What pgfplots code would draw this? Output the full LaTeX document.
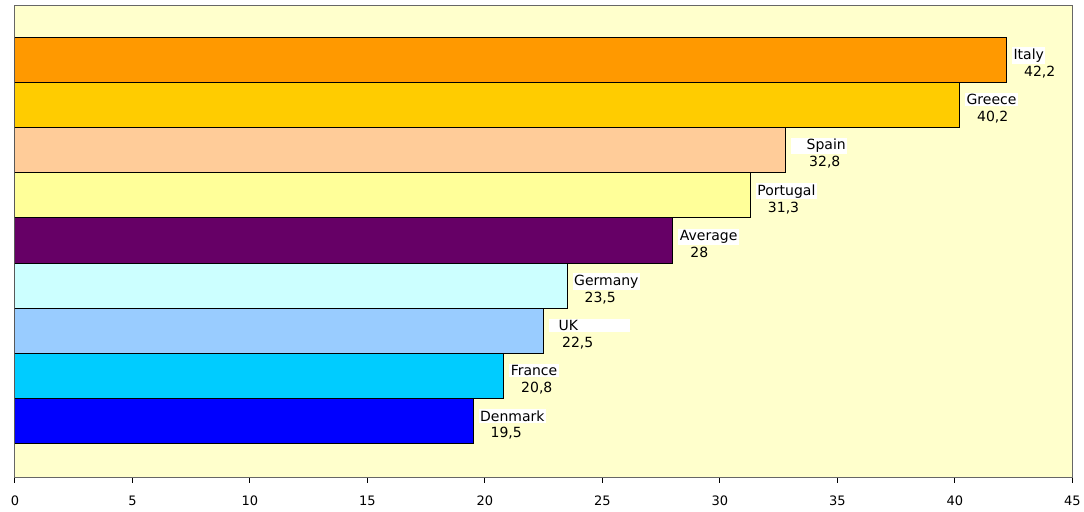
\documentclass[border=0pt]{standalone}
\usepackage{pgfplots}
\pgfplotsset{compat=1.18}
\usepackage{fontspec}
\setmainfont{DejaVu Sans}
\definecolor{bg}{HTML}{FFFFCC}
\definecolor{cIta}{HTML}{FF9900}
\definecolor{cGre}{HTML}{FFCC00}
\definecolor{cSpa}{HTML}{FFCC99}
\definecolor{cPor}{HTML}{FFFF99}
\definecolor{cAvg}{HTML}{660066}
\definecolor{cGer}{HTML}{CCFFFF}
\definecolor{cUK}{HTML}{99CCFF}
\definecolor{cFra}{HTML}{00CCFF}
\definecolor{cDen}{HTML}{0000FF}
% name on a white box, value below it
\newcommand{\lab}[2]{\setlength{\fboxsep}{1.5pt}\colorbox{white}{#1}\\[1pt]\hspace*{12pt}#2}
\begin{document}
\begin{tikzpicture}
\begin{axis}[
    scale only axis, width=1058pt, height=472pt,
    xbar, bar shift=0pt, bar width=1,
    xmin=0, xmax=45, ymin=-1.25, ymax=9.19,
    xtick={0,5,...,45}, ytick=\empty,
    xtick pos=bottom, tick align=outside, major tick length=5pt,
    axis background/.style={fill=bg},
    axis line style={black!60, line width=1pt},
    tick style={black, line width=1pt},
    xticklabel style={font=\fontsize{13}{15}\selectfont, yshift=-10pt},
    /pgf/number format/assume math mode=true,
    every node near coord/.append style={anchor=west, align=left, text=black,
        font=\fontsize{14}{16}\selectfont, xshift=4pt, yshift=-3pt, inner sep=1pt},
]
\addplot[draw=black, line width=1pt, fill=cDen, nodes near coords={\lab{Denmark}{19,5}}] coordinates {(19.5,0)};
\addplot[draw=black, line width=1pt, fill=cFra, nodes near coords={\lab{France}{20,8}}] coordinates {(20.8,1)};
\addplot[draw=black, line width=1pt, fill=cUK,  nodes near coords={\lab{\hspace*{8pt}UK\hspace*{50pt}}{\hspace*{1pt}22,5}}] coordinates {(22.5,2)};
\addplot[draw=black, line width=1pt, fill=cGer, nodes near coords={\lab{Germany}{23,5}}] coordinates {(23.5,3)};
\addplot[draw=black, line width=1pt, fill=cAvg, nodes near coords={\lab{Average}{28}}] coordinates {(28,4)};
\addplot[draw=black, line width=1pt, fill=cPor, nodes near coords={\lab{Portugal}{31,3}}] coordinates {(31.3,5)};
\addplot[draw=black, line width=1pt, fill=cSpa, nodes near coords={\lab{\hspace*{14pt}Spain}{\hspace*{6pt}32,8}}] coordinates {(32.8,6)};
\addplot[draw=black, line width=1pt, fill=cGre, nodes near coords={\lab{Greece}{40,2}}] coordinates {(40.2,7)};
\addplot[draw=black, line width=1pt, fill=cIta, nodes near coords={\lab{Italy}{42,2}}] coordinates {(42.2,8)};
\end{axis}
\path (current axis.south west) ++(-15pt,-34pt) (current axis.north east) ++(11pt,6pt);
\end{tikzpicture}
\end{document}
